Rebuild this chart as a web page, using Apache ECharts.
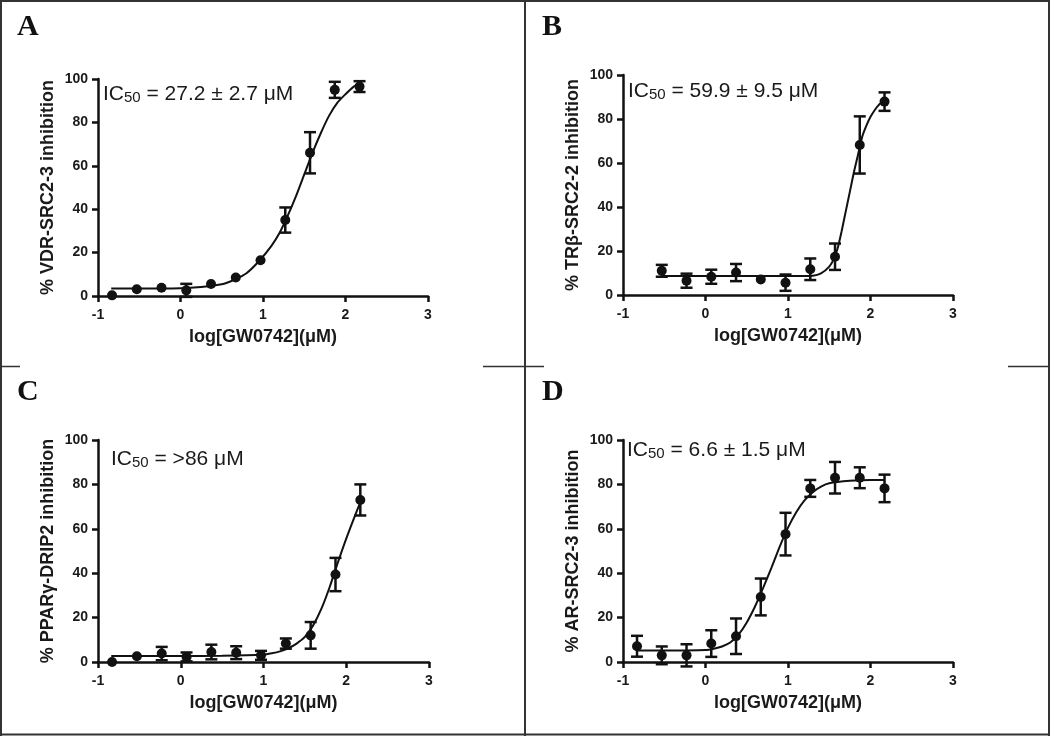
<!DOCTYPE html>
<html>
<head>
<meta charset="utf-8">
<script src="https://cdn.jsdelivr.net/npm/echarts@6/dist/echarts.min.js"></script>
<style>
html,body{margin:0;padding:0;background:#fff;}
#c{width:1050px;height:736px;}
</style>
</head>
<body>
<div id="c"></div>
<script>
// ---- data (log10 concentration, µM) ----
const xA = [-0.83, -0.53, -0.23, 0.07, 0.37, 0.67, 0.97, 1.27, 1.57, 1.87, 2.17];
const yA = [0.3, 3.1, 3.8, 2.6, 5.5, 8.5, 16.5, 35, 66, 95, 96.5];
const eA = [0, 0, 0, 3, 0, 0, 0, 5.8, 9.5, 3.7, 2.5];
const fitXA = [-0.84, -0.5, 0, 0.25, 0.5, 0.65, 0.8, 0.95, 1.1, 1.2, 1.3, 1.4, 1.5, 1.6, 1.7, 1.8, 1.9, 2.0, 2.1, 2.17];
const fitYA = [3.4, 3.4, 3.6, 4.2, 5.4, 7.5, 10.5, 16, 23, 29, 37, 46, 56, 66, 75, 83, 89, 93, 96.5, 98];

const xB = [-0.53, -0.23, 0.07, 0.37, 0.67, 0.97, 1.27, 1.57, 1.87, 2.17];
const yB = [11, 6.5, 8.3, 10.2, 7.1, 5.6, 11.7, 17.4, 68.2, 87.9];
const eB = [2.7, 3.2, 3.2, 3.9, 0, 3.7, 4.9, 6, 13, 4.2];
const fitXB = [-0.53, 0, 0.5, 1.0, 1.3, 1.4, 1.5, 1.55, 1.6, 1.65, 1.7, 1.75, 1.8, 1.85, 1.9, 1.95, 2.0, 2.05, 2.1, 2.17];
const fitYB = [8.6, 8.6, 8.6, 8.6, 8.8, 9.8, 12.9, 16, 21, 29, 38, 47, 56, 64, 72, 77, 81, 84, 86.4, 88.2];

const xC = [-0.83, -0.53, -0.23, 0.07, 0.37, 0.67, 0.97, 1.27, 1.57, 1.87, 2.17];
const yC = [0, 2.6, 3.8, 2.3, 4.5, 4.2, 3, 8.3, 12, 39.4, 73];
const eC = [0, 0, 3, 2, 3.3, 2.9, 2, 2.3, 6, 7.5, 7];
const fitXC = [-0.84, 0, 0.5, 1.0, 1.1, 1.2, 1.3, 1.4, 1.5, 1.6, 1.7, 1.8, 1.9, 2.0, 2.1, 2.17];
const fitYC = [2.7, 2.7, 2.8, 3.3, 3.9, 4.8, 6.2, 8.3, 11.3, 16.5, 24, 33.8, 45, 55.6, 65.4, 71.9];

const xD = [-0.83, -0.53, -0.23, 0.07, 0.37, 0.67, 0.97, 1.27, 1.57, 1.87, 2.17];
const yD = [7.1, 3, 3, 8.3, 11.6, 29.3, 57.6, 78.2, 83, 83, 78.2];
const eD = [4.7, 4, 5, 6, 8, 8.3, 9.6, 3.8, 7.1, 4.7, 6.2];
const fitXD = [-0.84, -0.5, 0, 0.1, 0.2, 0.3, 0.4, 0.5, 0.6, 0.7, 0.8, 0.9, 1.0, 1.1, 1.2, 1.3, 1.4, 1.5, 1.75, 2.0, 2.17];
const fitYD = [5.2, 5.2, 5.4, 6, 7, 8.8, 12.3, 17.8, 25, 33.5, 42.5, 52, 60.5, 67.5, 72.8, 76.5, 79, 80.5, 81.6, 82, 82];

const xTicks = [-1, 0, 1, 2, 3];
const yTicks = [0, 20, 40, 60, 80, 100];
const xTitle = 'log[GW0742](\u03bcM)';
const yTitles = ['% VDR-SRC2-3 inhibition', '% TR\u03b2-SRC2-2 inhibition', '% PPAR\u03b3-DRIP2 inhibition', '% AR-SRC2-3 inhibition'];
const icTexts = ['= 27.2 \u00b1 2.7 \u03bcM', '= 59.9 \u00b1 9.5 \u03bcM', '= >86 \u03bcM', '= 6.6 \u00b1 1.5 \u03bcM'];
const panelLetters = ['A', 'B', 'C', 'D'];

// ---- layout ----
const grids = [
  {left: 98, top: 79, width: 330, height: 217},
  {left: 623, top: 75, width: 330, height: 220},
  {left: 98, top: 440, width: 331, height: 222},
  {left: 623, top: 440, width: 330, height: 222}
];
const letterPos = [[17, 27], [542, 27], [17, 392], [542, 392]];
const icPos = [[103, 80], [628, 77], [111, 445], [627, 436]];

const panels = [
  {x: xA, y: yA, e: eA, fx: fitXA, fy: fitYA},
  {x: xB, y: yB, e: eB, fx: fitXB, fy: fitYB},
  {x: xC, y: yC, e: eC, fx: fitXC, fy: fitYC},
  {x: xD, y: yD, e: eD, fx: fitXD, fy: fitYD}
];

const INK = '#111';
const FONT = '"Liberation Sans", Arial, Helvetica, sans-serif';

const xAxes = [], yAxes = [], series = [];
panels.forEach((p, i) => {
  xAxes.push({
    gridIndex: i, type: 'value', min: xTicks[0], max: xTicks[xTicks.length - 1], interval: 1,
    axisLine: {show: true, onZero: false, lineStyle: {color: INK, width: 2.5}},
    axisTick: {show: true, length: 6, lineStyle: {color: INK, width: 2.5}},
    axisLabel: {color: '#1a1a1a', fontSize: 14, fontWeight: 'bold', fontFamily: FONT, margin: 12},
    splitLine: {show: false},
    name: xTitle, nameLocation: 'middle', nameGap: 32,
    nameTextStyle: {color: '#1a1a1a', fontSize: 18, fontWeight: 'bold', fontFamily: FONT}
  });
  yAxes.push({
    gridIndex: i, type: 'value', min: yTicks[0], max: yTicks[yTicks.length - 1], interval: 20,
    axisLine: {show: true, onZero: false, lineStyle: {color: INK, width: 2.5}},
    axisTick: {show: true, length: 6, lineStyle: {color: INK, width: 2.5}},
    axisLabel: {color: '#1a1a1a', fontSize: 14, fontWeight: 'bold', fontFamily: FONT, margin: 10},
    splitLine: {show: false},
    name: yTitles[i], nameLocation: 'middle', nameGap: 41,
    nameTextStyle: {color: '#1a1a1a', fontSize: 18, fontWeight: 'bold', fontFamily: FONT}
  });
  series.push({
    type: 'line', xAxisIndex: i, yAxisIndex: i,
    data: p.fx.map((v, k) => [v, p.fy[k]]),
    smooth: 0.25, showSymbol: false, symbol: 'none',
    lineStyle: {color: INK, width: 2}, z: 2, silent: true
  });
  series.push({
    type: 'custom', xAxisIndex: i, yAxisIndex: i,
    data: p.x.map((v, k) => [v, p.y[k] - p.e[k], p.y[k] + p.e[k], p.e[k]]).filter(d => d[3] > 0),
    encode: {x: 0, y: [1, 2]},
    renderItem: function (params, api) {
      const xv = api.value(0);
      const p1 = api.coord([xv, api.value(1)]);
      const p2 = api.coord([xv, api.value(2)]);
      const w = 6;
      const st = {stroke: INK, lineWidth: 2.5};
      return {type: 'group', children: [
        {type: 'line', shape: {x1: p1[0], y1: p1[1], x2: p2[0], y2: p2[1]}, style: st},
        {type: 'line', shape: {x1: p1[0] - w, y1: p1[1], x2: p1[0] + w, y2: p1[1]}, style: st},
        {type: 'line', shape: {x1: p2[0] - w, y1: p2[1], x2: p2[0] + w, y2: p2[1]}, style: st}
      ]};
    },
    z: 3, silent: true
  });
  series.push({
    type: 'scatter', xAxisIndex: i, yAxisIndex: i,
    data: p.x.map((v, k) => [v, p.y[k]]),
    symbol: 'circle', symbolSize: 10,
    itemStyle: {color: INK, opacity: 1}, z: 4, silent: true
  });
});

// ---- decorations: table lines, panel letters, IC50 labels ----
const BORDER = '#333';
const lineEl = (x1, y1, x2, y2, w) => ({type: 'line', silent: true, z: 10,
  shape: {x1, y1, x2, y2}, style: {stroke: BORDER, lineWidth: w}});
const graphic = [
  lineEl(0, 1, 1050, 1, 2),
  lineEl(1, 0, 1, 736, 2),
  lineEl(1049, 0, 1049, 736, 2),
  lineEl(0, 734.5, 1050, 734.5, 2),
  lineEl(525, 0, 525, 736, 2),
  lineEl(0, 366.5, 20, 366.5, 1.5),
  lineEl(483, 366.5, 544, 366.5, 1.5),
  lineEl(1008, 366.5, 1050, 366.5, 1.5)
];
panelLetters.forEach((L, i) => {
  graphic.push({type: 'text', x: letterPos[i][0], y: letterPos[i][1], silent: true,
    style: {text: L, font: 'bold 30px "Liberation Serif", "Times New Roman", serif',
      fill: '#111', align: 'left', verticalAlign: 'middle'}});
});
icTexts.forEach((t, i) => {
  graphic.push({type: 'text', x: icPos[i][0], y: icPos[i][1], silent: true,
    style: {
      text: '{n|IC}{s|50}{n| ' + t + '}',
      align: 'left', verticalAlign: 'top',
      rich: {
        n: {fontSize: 21, fontFamily: FONT, fill: '#1a1a1a', color: '#1a1a1a', lineHeight: 25, verticalAlign: 'bottom'},
        s: {fontSize: 15, fontFamily: FONT, fill: '#1a1a1a', color: '#1a1a1a', lineHeight: 15, verticalAlign: 'bottom'}
      }
    }});
});

const chart = echarts.init(document.getElementById('c'), null, {renderer: 'canvas'});
chart.setOption({
  animation: false,
  backgroundColor: '#fff',
  grid: grids.map(g => Object.assign({containLabel: false}, g)),
  xAxis: xAxes,
  yAxis: yAxes,
  series: series,
  graphic: graphic
});
</script>
</body>
</html>
